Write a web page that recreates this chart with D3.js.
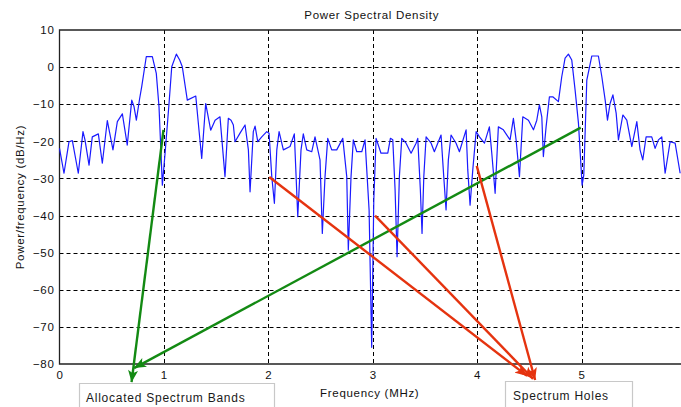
<!DOCTYPE html>
<html>
<head>
<meta charset="utf-8">
<script src="https://cdn.jsdelivr.net/npm/d3@7"></script>
<style>
  html, body { margin: 0; padding: 0; background: #fff; }
  svg { display: block; font-family: "Liberation Sans", Arial, Helvetica, sans-serif; }
</style>
</head>
<body>
<svg id="chart" width="681" height="407"></svg>
<script>
// ---- data ----
const freqMHz = [0.000,0.043,0.091,0.123,0.180,0.225,0.244,0.283,0.314,0.372,0.410,0.458,0.481,0.512,0.554,0.602,0.649,0.692,0.714,0.736,0.768,0.787,0.831,0.889,0.927,0.953,0.985,1.011,1.049,1.075,1.119,1.151,1.176,1.224,1.305,1.336,1.362,1.400,1.448,1.490,1.537,1.585,1.617,1.643,1.665,1.681,1.729,1.777,1.809,1.825,1.856,1.873,1.899,1.937,1.985,2.007,2.033,2.058,2.081,2.103,2.144,2.208,2.249,2.282,2.313,2.335,2.368,2.416,2.447,2.495,2.517,2.543,2.569,2.607,2.655,2.713,2.751,2.766,2.792,2.814,2.847,2.895,2.926,2.965,2.990,3.010,3.032,3.079,3.144,3.169,3.192,3.214,3.233,3.255,3.278,3.319,3.367,3.415,3.431,3.456,3.472,3.489,3.511,3.559,3.590,3.654,3.680,3.702,3.724,3.750,3.798,3.830,3.894,3.910,3.932,3.958,3.990,4.022,4.070,4.117,4.140,4.172,4.203,4.251,4.315,4.347,4.373,4.405,4.437,4.491,4.539,4.571,4.596,4.619,4.634,4.660,4.692,4.724,4.778,4.810,4.842,4.874,4.906,4.938,4.970,5.005,5.021,5.050,5.098,5.161,5.194,5.226,5.248,5.273,5.300,5.331,5.353,5.395,5.433,5.481,5.529,5.560,5.586,5.618,5.672,5.704,5.736,5.768,5.800,5.848,5.896,5.944];
const psdDb = [-21.9,-28.6,-20.1,-19.8,-28.6,-17.4,-19.6,-26.4,-18.8,-18.0,-25.9,-14.4,-17.8,-22.3,-14.7,-12.6,-21.0,-8.9,-10.7,-14.3,-8.4,-5.3,2.8,2.8,-1.7,-10.7,-31.8,-23.2,-9.8,0.1,3.5,1.9,0.1,-8.9,-7.8,-17.0,-24.6,-9.8,-17.0,-14.3,-13.4,-29.5,-13.8,-14.3,-15.6,-20.1,-17.8,-15.6,-22.3,-33.6,-17.4,-15.9,-20.1,-18.8,-17.4,-17.8,-29.5,-36.7,-22.3,-17.4,-22.3,-21.4,-18.0,-40.3,-22.3,-18.0,-22.3,-22.8,-18.8,-25.0,-44.8,-29.5,-19.2,-22.3,-22.3,-19.2,-29.5,-49.3,-29.5,-19.6,-22.8,-22.8,-19.6,-38.5,-75.5,-35.8,-19.2,-23.2,-23.2,-19.2,-19.6,-33.1,-51.1,-29.5,-19.2,-20.5,-23.2,-20.5,-19.2,-33.1,-44.8,-29.5,-18.8,-20.5,-22.8,-18.3,-29.5,-38.5,-25.0,-18.3,-20.5,-22.8,-16.9,-27.7,-37.2,-27.7,-17.4,-18.8,-20.5,-16.1,-23.2,-34.0,-16.1,-16.9,-19.6,-13.8,-19.6,-29.5,-13.4,-14.3,-16.9,-14.3,-10.2,-13.4,-24.1,-16.1,-8.0,-8.0,-9.3,-2.6,2.4,3.5,1.9,-6.2,-15.1,-31.8,-29.1,-3.5,3.0,3.0,-2.6,-8.9,-14.3,-9.8,-7.5,-12.4,-19.6,-12.9,-14.3,-21.4,-14.7,-22.3,-25.0,-18.8,-18.8,-21.9,-19.6,-18.8,-28.6,-20.1,-20.5,-28.6];
const xTicks = [0,1,2,3,4,5];
const yTicks = [10,0,-10,-20,-30,-40,-50,-60,-70,-80];

// annotation arrows (data coordinates: start -> tip)
const arrowGroup   = ["bands","bands","holes","holes","holes"];
const arrowFromF   = [0.996, 4.992, 2.009, 3.022, 3.996];
const arrowFromDb  = [-16.9, -16.3, -29.6, -40.0, -26.6];
const arrowToF     = [0.690, 0.714, 4.478, 4.535, 4.555];
const arrowToDb    = [-84.9, -81.1, -83.2, -84.0, -84.3];

const labelText  = ["Allocated Spectrum Bands", "Spectrum Holes"];

const titleText = "Power Spectral Density";
const xLabel = "Frequency (MHz)";
const yLabel = "Power/frequency (dB/Hz)";

// ---- layout ----
const W = 681, H = 407;
const pL = 59.5, pR = 686, pT = 30, pB = 364;
const LS = 0.7;

const svg = d3.select("#chart");
svg.append("rect").attr("width", W).attr("height", H).attr("fill", "#fff");

const x = d3.scaleLinear().domain([0, 6]).range([pL, pR]);
const y = d3.scaleLinear().domain([-80, 10]).range([pB, pT]);

// grid
const grid = svg.append("g").attr("stroke", "#000").attr("stroke-width", 1).attr("stroke-dasharray", "4,3");
xTicks.filter(t => t > 0).forEach(t => {
  grid.append("line").attr("x1", Math.round(x(t)) + 0.5).attr("x2", Math.round(x(t)) + 0.5)
    .attr("y1", pT).attr("y2", pB);
});
yTicks.filter(t => t < 10 && t > -80).forEach(t => {
  grid.append("line").attr("y1", Math.round(y(t)) + 0.5).attr("y2", Math.round(y(t)) + 0.5)
    .attr("x1", pL).attr("x2", pR);
});

// axes
const xAxis = d3.axisBottom(x).tickValues(xTicks).tickSize(0).tickPadding(7).tickFormat(d3.format("d"));
const yAxis = d3.axisLeft(y).tickValues(yTicks).tickSize(0).tickPadding(5).tickFormat(d3.format("d"));
const gx = svg.append("g").attr("transform", `translate(0,${pB})`).call(xAxis);
const gy = svg.append("g").attr("transform", `translate(${pL},0)`).call(yAxis);
[gx, gy].forEach(g => {
  g.select(".domain").remove();
  g.selectAll("text").attr("font-size", 11.5).attr("fill", "#111").attr("letter-spacing", LS)
    .attr("font-family", '"Liberation Sans", Arial, sans-serif');
});

// box
svg.append("path")
  .attr("d", `M${pR},${pT}H${pL}V${pB}H${pR}`)
  .attr("fill", "none").attr("stroke", "#222").attr("stroke-width", 1.3);

// spectrum line
const pts = freqMHz.map((f, i) => [f, psdDb[i]]);
svg.append("path")
  .datum(pts)
  .attr("fill", "none")
  .attr("stroke", "#1a1aff")
  .attr("stroke-width", 1.2)
  .attr("stroke-linejoin", "round")
  .attr("d", d3.line().x(d => x(d[0])).y(d => y(d[1])));

// titles
svg.append("text").attr("x", (pL + pR) / 2 - 1).attr("y", 18.5)
  .attr("text-anchor", "middle").attr("font-size", 11.5).attr("letter-spacing", LS).attr("fill", "#111").text(titleText);
svg.append("text").attr("x", (pL + pR) / 2 - 3).attr("y", 397)
  .attr("text-anchor", "middle").attr("font-size", 11.5).attr("letter-spacing", LS).attr("fill", "#111").text(xLabel);
svg.append("text").attr("transform", `translate(24,${(pT + pB) / 2}) rotate(-90)`)
  .attr("text-anchor", "middle").attr("font-size", 11.5).attr("letter-spacing", LS).attr("fill", "#111").text(yLabel);

// arrow markers
const colors = { bands: "#138a13", holes: "#e5330f" };
const defs = svg.append("defs");
Object.entries(colors).forEach(([k, c]) => {
  defs.append("marker").attr("id", "ah-" + k)
    .attr("markerUnits", "userSpaceOnUse")
    .attr("viewBox", "0 0 12 10").attr("refX", 12).attr("refY", 5)
    .attr("markerWidth", 13).attr("markerHeight", 10).attr("orient", "auto")
    .append("path").attr("d", "M0,0 L12,5 L0,10 L3,5 Z").attr("fill", c);
});

// label boxes
const boxes = [
  { x0: 79.5, x1: 274.5, y0: 383.5, tx: 86, ty: 401.5 },
  { x0: 505.5, x1: 632.5, y0: 381.5, tx: 513, ty: 400 }
];
boxes.forEach((b, i) => {
  svg.append("path").attr("d", `M${b.x0},${H + 2}V${b.y0}H${b.x1}V${H + 2}`)
    .attr("fill", "#fff").attr("stroke", "#c8c8c8").attr("stroke-width", 1.2);
  svg.append("text").attr("x", b.tx).attr("y", b.ty).attr("font-size", 12)
    .attr("fill", "#1a1a1a").attr("letter-spacing", 0.75).text(labelText[i]);
});

// arrows
arrowGroup.forEach((g, i) => {
  svg.append("line")
    .attr("x1", x(arrowFromF[i])).attr("y1", y(arrowFromDb[i]))
    .attr("x2", x(arrowToF[i])).attr("y2", y(arrowToDb[i]))
    .attr("stroke", colors[g]).attr("stroke-width", 2.4)
    .attr("marker-end", `url(#ah-${g})`);
});
</script>
</body>
</html>
